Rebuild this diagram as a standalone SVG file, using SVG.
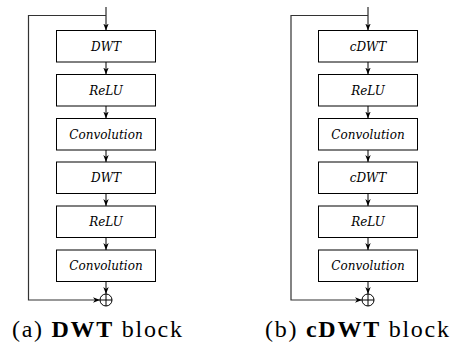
<svg xmlns="http://www.w3.org/2000/svg" width="456" height="351" viewBox="0 0 456 351">
<style>
.box{fill:#fff;stroke:#000;stroke-width:1}
.lbl{font-family:"DejaVu Serif",serif;font-style:italic;font-size:12px;text-anchor:middle;fill:#000}
.ln{fill:none;stroke:#000;stroke-width:1}
.loop{fill:none;stroke:#333;stroke-width:1.2}
.cap{font-family:"Liberation Serif","Times New Roman",serif;font-size:24px;fill:#000}
.b{font-weight:bold}
</style>
<defs>
<marker id="ar" markerWidth="8" markerHeight="7" refX="7" refY="3.5" orient="auto" markerUnits="userSpaceOnUse">
<path d="M0,0.8 L7,3.5 L0,6.2 L2,3.5 z" fill="#000"/>
</marker>
</defs>
<g id="connectors">
<path class="ln" d="M106,7 V30.5" marker-end="url(#ar)"/>
<path class="loop" d="M106,15.5 H28.5 V300 H100" marker-end="url(#ar)"/>
<path class="ln" d="M106,62 V74.5" marker-end="url(#ar)"/>
<path class="ln" d="M106,106 V118.5" marker-end="url(#ar)"/>
<path class="ln" d="M106,150 V162" marker-end="url(#ar)"/>
<path class="ln" d="M106,193.5 V206" marker-end="url(#ar)"/>
<path class="ln" d="M106,237.5 V250" marker-end="url(#ar)"/>
<path class="ln" d="M106,281.5 V294" marker-end="url(#ar)"/>
<path class="ln" d="M368,7 V30.5" marker-end="url(#ar)"/>
<path class="loop" d="M368,15.5 H291 V300 H362" marker-end="url(#ar)"/>
<path class="ln" d="M368,62 V74.5" marker-end="url(#ar)"/>
<path class="ln" d="M368,106 V118.5" marker-end="url(#ar)"/>
<path class="ln" d="M368,150 V162" marker-end="url(#ar)"/>
<path class="ln" d="M368,193.5 V206" marker-end="url(#ar)"/>
<path class="ln" d="M368,237.5 V250" marker-end="url(#ar)"/>
<path class="ln" d="M368,281.5 V294" marker-end="url(#ar)"/>
</g>
<g id="a_dwt1"><rect class="box" x="56.5" y="30.5" width="99" height="31.5"/><text class="lbl" x="106" y="50.5">DWT</text></g>
<g id="a_relu1"><rect class="box" x="56.5" y="74.5" width="99" height="31.5"/><text class="lbl" x="106" y="94.5">ReLU</text></g>
<g id="a_conv1"><rect class="box" x="56.5" y="118.5" width="99" height="31.5"/><text class="lbl" x="106" y="138.5">Convolution</text></g>
<g id="a_dwt2"><rect class="box" x="56.5" y="162" width="99" height="31.5"/><text class="lbl" x="106" y="182">DWT</text></g>
<g id="a_relu2"><rect class="box" x="56.5" y="206" width="99" height="31.5"/><text class="lbl" x="106" y="226">ReLU</text></g>
<g id="a_conv2"><rect class="box" x="56.5" y="250" width="99" height="31.5"/><text class="lbl" x="106" y="270">Convolution</text></g>
<g id="a_sum"><circle cx="106" cy="300" r="6" fill="#fff" stroke="#000" stroke-width="1"/><path class="ln" d="M100,300 H112 M106,294 V306"/></g>
<g id="b_dwt1"><rect class="box" x="318.5" y="30.5" width="99" height="31.5"/><text class="lbl" x="368" y="50.5">cDWT</text></g>
<g id="b_relu1"><rect class="box" x="318.5" y="74.5" width="99" height="31.5"/><text class="lbl" x="368" y="94.5">ReLU</text></g>
<g id="b_conv1"><rect class="box" x="318.5" y="118.5" width="99" height="31.5"/><text class="lbl" x="368" y="138.5">Convolution</text></g>
<g id="b_dwt2"><rect class="box" x="318.5" y="162" width="99" height="31.5"/><text class="lbl" x="368" y="182">cDWT</text></g>
<g id="b_relu2"><rect class="box" x="318.5" y="206" width="99" height="31.5"/><text class="lbl" x="368" y="226">ReLU</text></g>
<g id="b_conv2"><rect class="box" x="318.5" y="250" width="99" height="31.5"/><text class="lbl" x="368" y="270">Convolution</text></g>
<g id="b_sum"><circle cx="368" cy="300" r="6" fill="#fff" stroke="#000" stroke-width="1"/><path class="ln" d="M362,300 H374 M368,294 V306"/></g>
<g id="captions">
<text class="cap" x="12" y="337" textLength="170" lengthAdjust="spacing">(a) <tspan class="b">DWT</tspan> block</text>
<text class="cap" x="265" y="337" textLength="184" lengthAdjust="spacing">(b) <tspan class="b">cDWT</tspan> block</text>
</g>
</svg>
